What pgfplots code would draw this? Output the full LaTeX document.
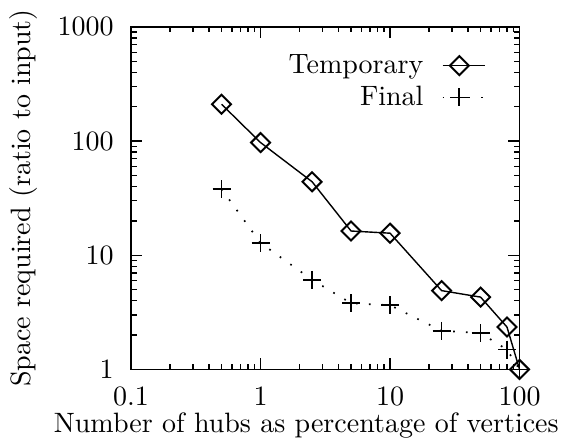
\documentclass[border=0pt]{standalone}
\usepackage{pgfplots}
\pgfplotsset{compat=1.18}
\begin{document}
\begin{tikzpicture}
\begin{axis}[
  name=ax,
  xmode=log, ymode=log,
  scale only axis,
  width=138.7pt, height=122.3pt,
  xmin=0.1, xmax=100, ymin=1, ymax=1000,
  xtick={0.1,1,10,100}, xticklabels={0.1,1,10,100},
  ytick={1,10,100,1000}, yticklabels={1,10,100,1000},
  tick align=inside,
  major tick length=4pt, minor tick length=2pt,
  tick style={black, line width=0.5pt},
  axis line style={line width=0.6pt},
  xticklabel style={anchor=base, yshift=-13pt},
  yticklabel style={xshift=-2.7pt},
  xlabel={Number of hubs as percentage of vertices},
  ylabel={Space required (ratio to input)},
  xlabel style={at={(axis description cs:0.451,-0.185)}, anchor=base},
  ylabel style={at={(axis description cs:-0.276,0.5)}, anchor=center},
  legend style={at={(axis description cs:1,1)}, anchor=north east, xshift=-9pt, yshift=-7pt,
    draw=none, fill=none, row sep=2pt, column sep=6pt, nodes={inner sep=0.5pt}},
  legend cell align=right, legend plot pos=right,
  legend image code/.code={\draw[mark repeat=2,mark phase=2,#1] plot coordinates {(0pt,0pt) (6pt,0pt) (15pt,0pt)};},
]
\addplot[black, line width=0.5pt, mark=square, mark size=2.4pt,
  mark options={rotate=45, solid, line width=0.7pt, fill=none}]
  coordinates {(0.5,210) (1,97) (2.5,44) (5,16.3) (10,15.6) (25,4.9) (50,4.3) (80,2.35) (100,1)};
\addlegendentry{Temporary}
\addplot[black, line width=0.6pt, dash pattern=on 0.6pt off 4pt, mark=+, mark size=3.2pt,
  mark options={solid, line width=0.6pt}]
  coordinates {(0.5,38) (1,12.8) (2.5,6.1) (5,3.8) (10,3.65) (25,2.18) (50,2.08) (80,1.49) (100,1)};
\addlegendentry{Final}
\end{axis}
\path (ax.south west) ++(-46.8pt,-24.8pt) rectangle ++(201.4pt,153.9pt);
\end{tikzpicture}
\end{document}
